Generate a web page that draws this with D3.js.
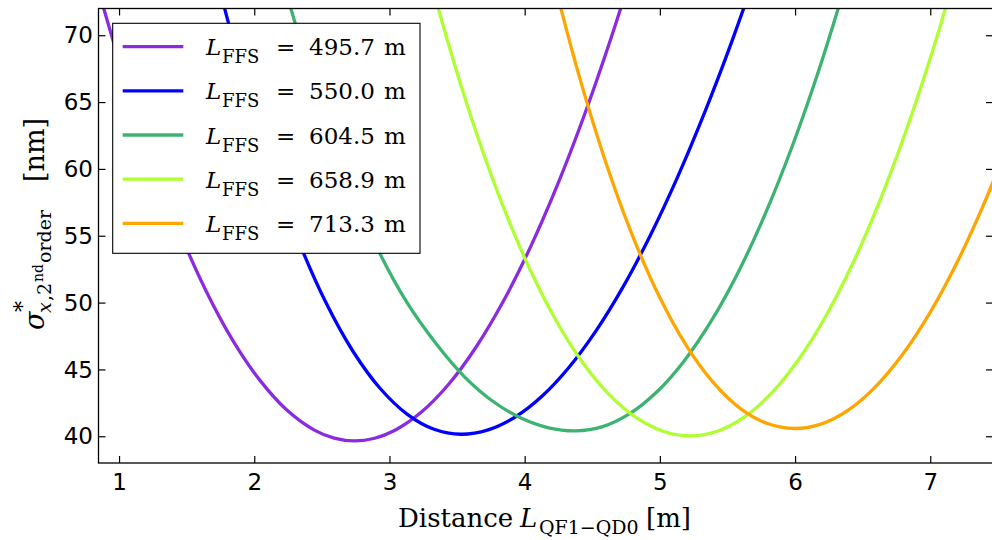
<!DOCTYPE html>
<html><head><meta charset="utf-8">
<script src="https://cdn.jsdelivr.net/npm/d3@7"></script>
<style>body{margin:0;background:#fff} svg{display:block}</style>
</head><body><svg id="c" width="992" height="540"></svg>
<script>
// ---- data ----
const seriesLabels = ["495.7", "550.0", "604.5", "658.9", "713.3"];
const purpleX = [0.841, 1.041, 1.241, 1.441, 1.641, 1.841, 2.041, 2.241, 2.441, 2.591, 2.741, 2.891, 3.041, 3.241, 3.441, 3.641, 3.841, 4.041, 4.241, 4.441, 4.641, 4.791];
const purpleY = [73.61, 66.77, 60.72, 55.44, 50.93, 47.18, 44.20, 41.96, 40.48, 39.86, 39.65, 39.85, 40.45, 41.85, 43.93, 46.68, 50.08, 54.11, 58.76, 64.01, 69.85, 74.61];
const blueX = [1.73, 1.93, 2.13, 2.33, 2.53, 2.73, 2.93, 3.13, 3.33, 3.53, 3.73, 3.93, 4.13, 4.33, 4.53, 4.73, 4.93, 5.13, 5.33, 5.53, 5.73];
const blueY = [73.96, 66.49, 60.03, 54.55, 50.00, 46.36, 43.59, 41.66, 40.52, 40.15, 40.48, 41.44, 43.01, 45.18, 47.92, 51.21, 55.04, 59.37, 64.19, 69.47, 75.21];
const greenX = [2.117, 2.317, 2.517, 2.717, 2.917, 3.127, 3.347, 3.557, 3.767, 3.977, 4.177, 4.377, 4.577, 4.777, 4.977, 5.177, 5.377, 5.577, 5.777, 5.977, 6.177, 6.377];
const greenY = [77.67, 70.40, 64.05, 58.58, 53.92, 50.05, 46.90, 44.43, 42.60, 41.34, 40.63, 40.40, 40.72, 41.69, 43.31, 45.60, 48.57, 52.22, 56.58, 61.64, 67.42, 73.93];
const limeX = [3.229, 3.429, 3.629, 3.829, 4.029, 4.229, 4.429, 4.629, 4.829, 5.029, 5.229, 5.429, 5.629, 5.829, 6.029, 6.229, 6.429, 6.629, 6.829, 7.029, 7.229];
const limeY = [76.97, 69.60, 63.11, 57.49, 52.70, 48.72, 45.52, 43.08, 41.37, 40.36, 40.03, 40.39, 41.47, 43.26, 45.78, 49.02, 52.98, 57.67, 63.08, 69.21, 76.07];
const orangeX = [4.196, 4.396, 4.596, 4.796, 4.996, 5.196, 5.396, 5.596, 5.796, 5.996, 6.196, 6.396, 6.596, 6.796, 6.996, 7.196, 7.396, 7.596];
const orangeY = [74.84, 67.20, 60.61, 55.04, 50.45, 46.78, 44.01, 42.07, 40.95, 40.58, 40.93, 41.98, 43.72, 46.13, 49.21, 52.96, 57.36, 62.40];
const xTicks = [1, 2, 3, 4, 5, 6, 7];
const yTicks = [40, 45, 50, 55, 60, 65, 70];
const xLimits = [0.848, 7.464];
const yLimits = [38, 72];

// ---- styles ----
const colors = ["#8a2be2", "#0000ff", "#3cb371", "#adff2f", "#ffa500"];

const seriesX = [purpleX, blueX, greenX, limeX, orangeX];
const seriesY = [purpleY, blueY, greenY, limeY, orangeY];

const svg = d3.select("#c");
const L = 98.5, R = 993, T = 8.5, B = 463;
const x = d3.scaleLinear().domain(xLimits).range([L, R]);
const y = d3.scaleLinear().domain(yLimits).range([B, T]);

svg.append("defs").append("clipPath").attr("id", "clip")
  .append("rect").attr("x", L).attr("y", T).attr("width", R - L).attr("height", B - T);

const line = d3.line().x(d => x(d[0])).y(d => y(d[1])).curve(d3.curveCatmullRom.alpha(0.5));
const gLines = svg.append("g").attr("clip-path", "url(#clip)");
seriesX.forEach((xs, i) => {
  const pts = xs.map((v, j) => [v, seriesY[i][j]]);
  gLines.append("path").attr("d", line(pts)).attr("fill", "none")
    .attr("stroke", colors[i]).attr("stroke-width", 3.3).attr("stroke-linejoin", "round");
});

// axes (inward ticks on all sides)
const tickLen = 7;
const axB = d3.axisBottom(x).tickValues(xTicks).tickSize(-tickLen).tickFormat(d3.format("d"));
const axT = d3.axisTop(x).tickValues(xTicks).tickSize(-tickLen).tickFormat("");
const axL = d3.axisLeft(y).tickValues(yTicks).tickSize(-tickLen).tickFormat(d3.format("d"));
const axR = d3.axisRight(y).tickValues(yTicks).tickSize(-tickLen).tickFormat("");
function style(g) {
  g.select(".domain").remove();
  g.selectAll(".tick line").attr("stroke", "#000").attr("stroke-width", 1.2);
  g.selectAll(".tick text").attr("font-family", "DejaVu Sans").attr("font-size", 23).attr("fill", "#000");
}
svg.append("g").attr("transform", `translate(0,${B})`).call(axB).call(style)
  .selectAll(".tick text").attr("dy", null).attr("y", 27);
svg.append("g").attr("transform", `translate(0,${T})`).call(axT).call(style);
svg.append("g").attr("transform", `translate(${L},0)`).call(axL).call(style)
  .selectAll(".tick text").attr("dy", "0.33em").attr("x", -5.5);
svg.append("g").attr("transform", `translate(${R},0)`).call(axR).call(style);

svg.append("rect").attr("x", L).attr("y", T).attr("width", R - L).attr("height", B - T)
  .attr("fill", "none").attr("stroke", "#000").attr("stroke-width", 1.3);

// legend
const lg = svg.append("g");
lg.append("rect").attr("x", 112.7).attr("y", 23.3).attr("width", 307.3).attr("height", 230)
  .attr("fill", "#fff").attr("stroke", "#000").attr("stroke-width", 1.1);
seriesLabels.forEach((lab, i) => {
  const cy = 46.7 + 44.15 * i;
  lg.append("line").attr("x1", 122.7).attr("x2", 183.3).attr("y1", cy).attr("y2", cy)
    .attr("stroke", colors[i]).attr("stroke-width", 3.3);
  const t = lg.append("text").attr("y", cy + 8.5).attr("font-family", "DejaVu Serif").attr("font-size", 23).attr("fill", "#000");
  t.append("tspan").attr("x", 206).attr("font-style", "italic").text("L");
  t.append("tspan").attr("x", 222).attr("dy", 8).attr("font-size", 18).text("FFS");
  t.append("tspan").attr("x", 276).attr("dy", -8).text("=");
  t.append("tspan").attr("x", 309).text(lab);
  t.append("tspan").attr("x", 384).text("m");
});

// x label
const xl = svg.append("text").attr("y", 527).attr("font-family", "DejaVu Serif").attr("font-size", 26).attr("fill", "#000");
xl.append("tspan").attr("x", 398).text("Distance");
xl.append("tspan").attr("x", 520).attr("font-style", "italic").text("L");
xl.append("tspan").attr("x", 539).attr("dy", 7).attr("font-size", 19).text("QF1\u2212QD0");
xl.append("tspan").attr("x", 646).attr("dy", -7).text("[m]");

// y label (rotated)
const yl = svg.append("text").attr("transform", "translate(44,330) rotate(-90)")
  .attr("font-family", "DejaVu Serif").attr("font-size", 27).attr("fill", "#000");
yl.append("tspan").attr("x", 0).attr("font-style", "italic").text("\u03c3");
yl.append("tspan").attr("x", 18).attr("dy", -14).attr("font-size", 22).text("*");
yl.append("tspan").attr("x", 17).attr("dy", 21).attr("font-size", 19).attr("font-style", "italic").text("x");
yl.append("tspan").attr("x", 29).attr("font-size", 19).text(",2");
yl.append("tspan").attr("x", 48).attr("dy", -8).attr("font-size", 14).text("nd");
yl.append("tspan").attr("x", 67).attr("dy", 8).attr("font-size", 19).text("order");
yl.append("tspan").attr("x", 148).attr("dy", -7).text("[nm]");
</script></body></html>
